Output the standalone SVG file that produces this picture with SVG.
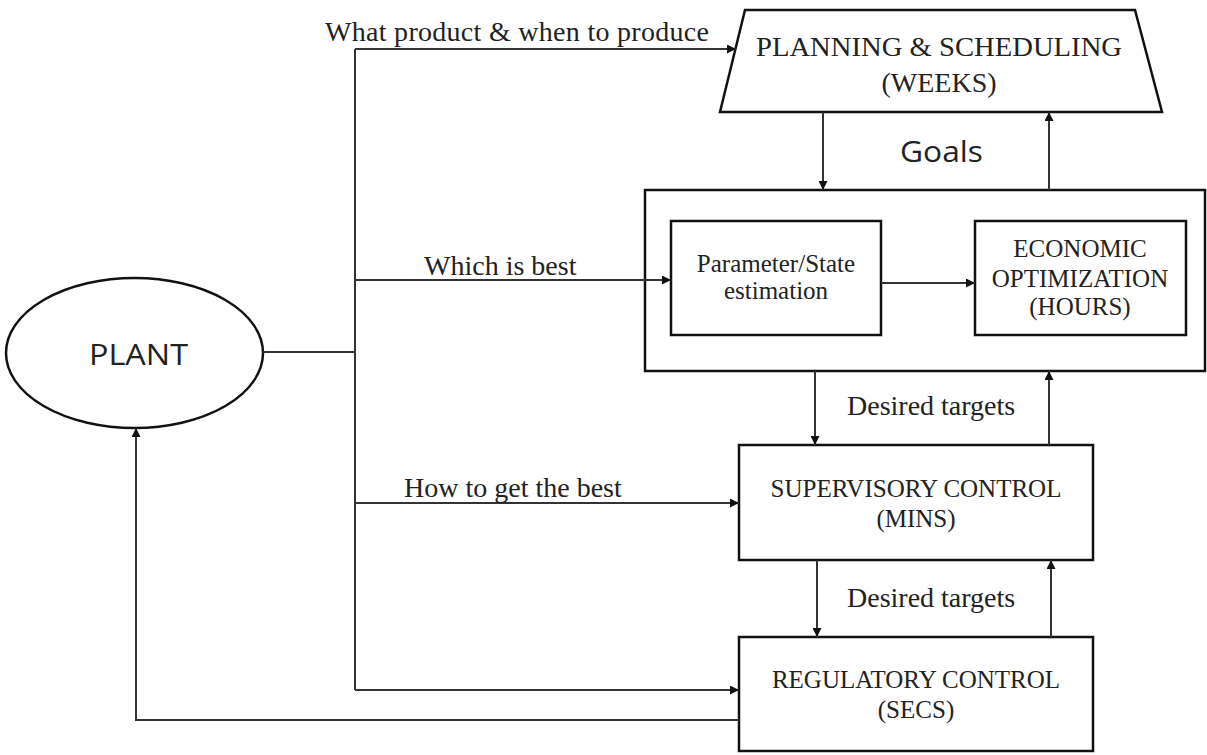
<svg xmlns="http://www.w3.org/2000/svg" width="1207" height="755" viewBox="0 0 1207 755">
  <defs>
    <marker id="arrow" viewBox="0 0 10 10" refX="10" refY="5" markerWidth="9" markerHeight="9" markerUnits="userSpaceOnUse" orient="auto">
      <path d="M0,0 L10,5 L0,10 Z" fill="#111"/>
    </marker>
    <style>
      .box { fill: #fff; stroke: #111; stroke-width: 2.5; }
      .wire { fill: none; stroke: #333; stroke-width: 2; }
      .arr { marker-end: url(#arrow); }
      .serif { font-family: "Liberation Serif", "Times New Roman", serif; fill: #222; }
      .sans { font-family: "Open Sans", "Liberation Sans", sans-serif; fill: #222; }
      .lbl { font-size: 28px; }
      .inbox { font-size: 25px; text-anchor: middle; }
    </style>
  </defs>
  <rect width="1207" height="755" fill="#fff"/>

  <g id="plant">
    <ellipse cx="134.5" cy="353" rx="128.5" ry="75" fill="#fff" stroke="#111" stroke-width="2.5"/>
    <text class="sans" x="89" y="365" font-size="30" textLength="99" lengthAdjust="spacingAndGlyphs">PLANT</text>
  </g>

  <g id="planning">
    <path class="box" d="M745,10 H1135 L1162,112 H720 Z"/>
    <text class="serif" x="939" y="56" font-size="28" text-anchor="middle" textLength="366" lengthAdjust="spacingAndGlyphs">PLANNING &amp; SCHEDULING</text>
    <text class="serif" x="939" y="92" font-size="28" text-anchor="middle">(WEEKS)</text>
  </g>

  <g id="optimization-layer">
    <rect class="box" x="645" y="190" width="560" height="181"/>
  </g>

  <g id="estimation">
    <rect class="box" x="671" y="221" width="210" height="114"/>
    <text class="serif inbox" x="776" y="272">Parameter/State</text>
    <text class="serif inbox" x="776" y="299">estimation</text>
  </g>

  <g id="economic">
    <rect class="box" x="975" y="221" width="211" height="114"/>
    <text class="serif inbox" x="1080" y="257">ECONOMIC</text>
    <text class="serif inbox" x="1080" y="287">OPTIMIZATION</text>
    <text class="serif inbox" x="1080" y="315">(HOURS)</text>
  </g>

  <g id="supervisory">
    <rect class="box" x="739" y="445" width="354" height="115"/>
    <text class="serif inbox" x="916" y="497">SUPERVISORY CONTROL</text>
    <text class="serif inbox" x="916" y="527">(MINS)</text>
  </g>

  <g id="regulatory">
    <rect class="box" x="739" y="637" width="354" height="114"/>
    <text class="serif inbox" x="916" y="688">REGULATORY CONTROL</text>
    <text class="serif inbox" x="916" y="718">(SECS)</text>
  </g>

  <!-- connectors, drawn over the boxes so lines crossing the outer frame stay visible -->
  <g id="connectors">
    <!-- plant output to the distribution bus -->
    <path class="wire" d="M263,352 H355"/>
    <path class="wire" d="M355,49 V690"/>
    <path class="wire arr" d="M355,49 H736"/>
    <path class="wire arr" d="M355,280 H671"/>
    <path class="wire arr" d="M355,503 H739"/>
    <path class="wire arr" d="M355,690 H739"/>
    <!-- regulatory control back to the plant -->
    <path class="wire arr" d="M739,720 H136 V428"/>
    <!-- vertical hierarchy -->
    <path class="wire arr" d="M823,112 V190"/>
    <path class="wire arr" d="M1049,190 V112"/>
    <path class="wire arr" d="M815,371 V445"/>
    <path class="wire arr" d="M1049,445 V371"/>
    <path class="wire arr" d="M817,560 V637"/>
    <path class="wire arr" d="M1051,637 V560"/>
    <path class="wire arr" d="M881,283 H975"/>
  </g>

  <!-- edge labels -->
  <text class="serif lbl" x="325" y="41" textLength="384" lengthAdjust="spacing">What product &amp; when to produce</text>
  <text class="serif lbl" x="424" y="275">Which is best</text>
  <text class="serif lbl" x="404" y="497">How to get the best</text>
  <text class="serif lbl" x="847" y="415">Desired targets</text>
  <text class="serif lbl" x="847" y="607">Desired targets</text>
  <text class="sans" x="900" y="162" font-size="30" textLength="83" lengthAdjust="spacingAndGlyphs">Goals</text>
</svg>
